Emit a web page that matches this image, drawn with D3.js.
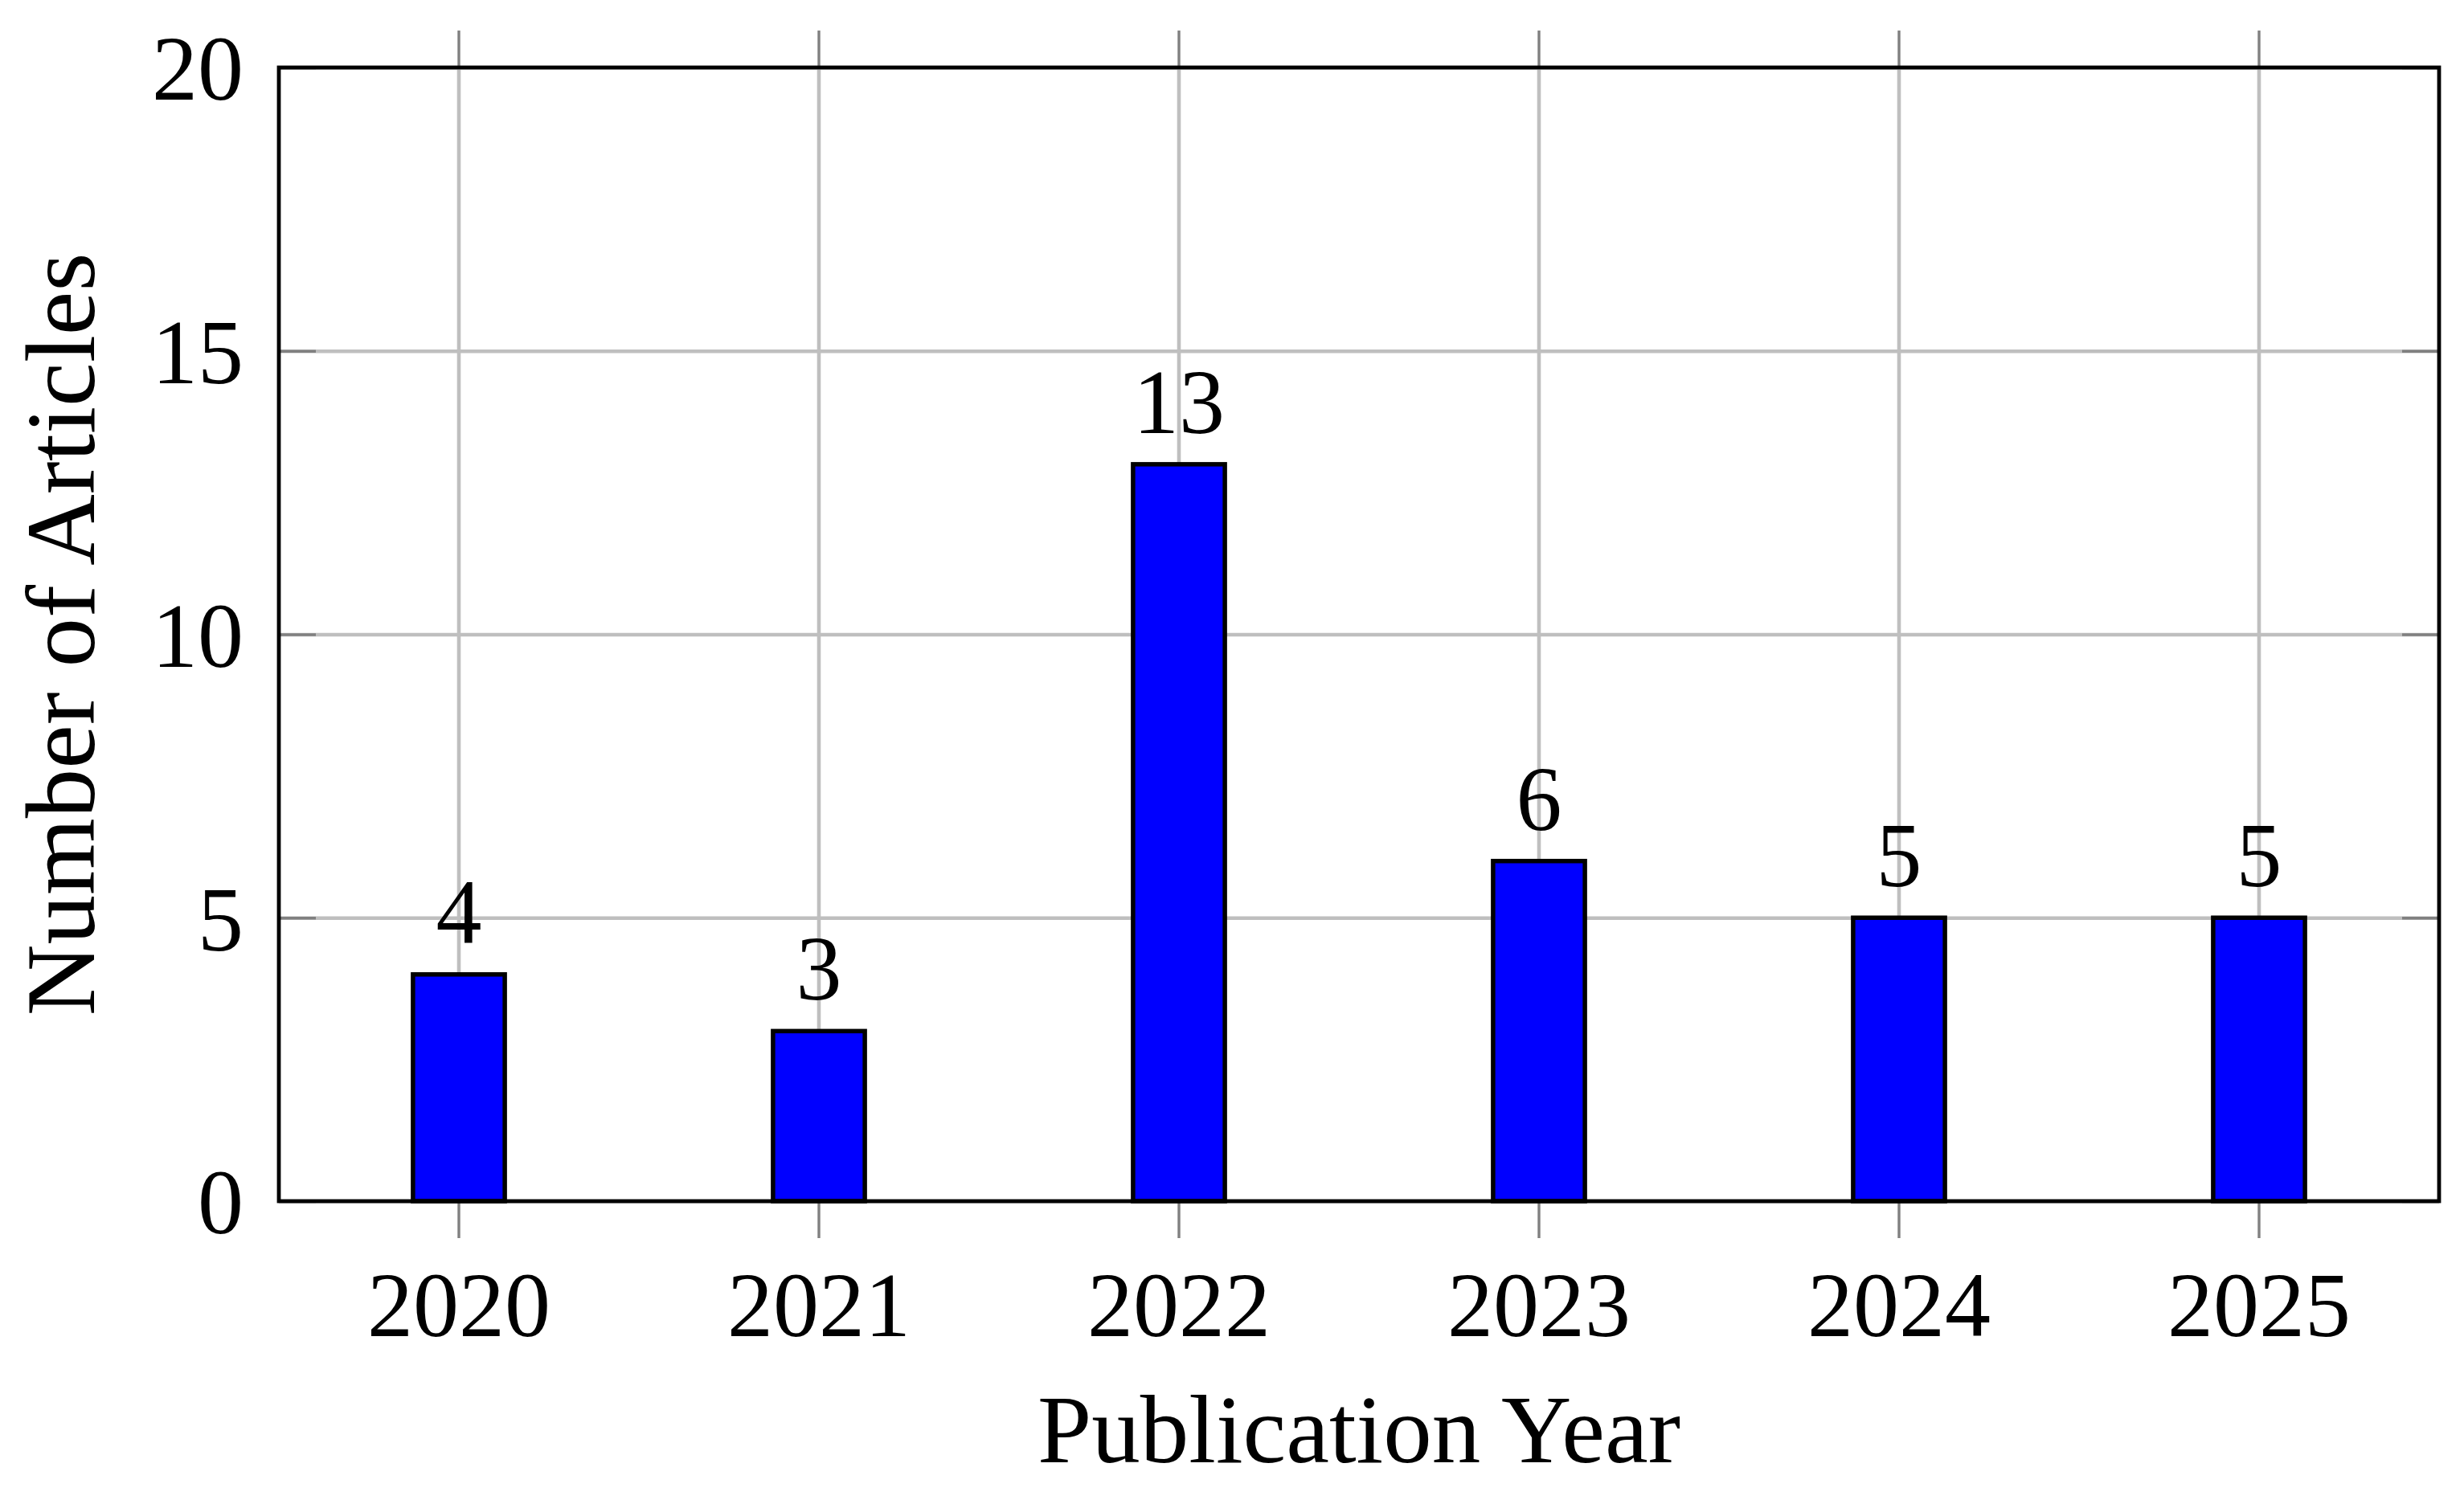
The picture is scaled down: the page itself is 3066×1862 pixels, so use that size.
<!DOCTYPE html>
<html>
<head>
<meta charset="utf-8">
<script src="https://cdn.jsdelivr.net/npm/d3@7"></script>
<style>
  body { margin: 0; background: #fff; }
  svg { display: block; }
  text { font-family: "Liberation Serif", "DejaVu Serif", serif; fill: #000; }
</style>
</head>
<body>
<div id="chart"></div>
<script>
const years = ["2020", "2021", "2022", "2023", "2024", "2025"]
const articles = [4, 3, 13, 6, 5, 5]
const yTicks = [0, 5, 10, 15, 20]

const width = 3066, height = 1862
const margin = { top: 84, right: 31, bottom: 367, left: 347 }
const innerW = width - margin.left - margin.right
const innerH = height - margin.top - margin.bottom

const svg = d3.select("#chart")
    .append("svg")
    .attr("width", width)
    .attr("height", height)

const g = svg.append("g")
    .attr("transform", `translate(${margin.left}, ${margin.top})`)

const x = d3.scaleBand()
    .domain(years)
    .range([0, innerW])
    .padding(0)

const y = d3.scaleLinear()
    .domain([0, 20])
    .range([innerH, 0])

const cx = d => x(d) + x.bandwidth() / 2
const barW = x.bandwidth() * 0.255

// grid
g.append("g")
    .attr("class", "grid")
    .call(d3.axisLeft(y).tickValues(yTicks).tickSize(-innerW).tickFormat(""))
g.append("g")
    .attr("class", "grid")
    .attr("transform", `translate(0, ${innerH})`)
    .call(d3.axisBottom(x).tickSize(innerH).tickSizeOuter(0).tickFormat(""))
    .call(a => a.selectAll("line").attr("y2", -innerH))
g.selectAll(".grid .domain").remove()
g.selectAll(".grid line")
    .attr("stroke", "#bfbfbf")
    .attr("stroke-width", 4.6)

// ticks: y inside on both sides, x outside top and bottom
const tickLen = 46
g.append("g")
    .attr("class", "yaxis")
    .call(d3.axisLeft(y).tickValues(yTicks).tickSize(-tickLen).tickPadding(44))
g.append("g")
    .attr("transform", `translate(${innerW}, 0)`)
    .call(d3.axisRight(y).tickValues(yTicks).tickSize(-tickLen).tickFormat(""))
g.append("g")
    .attr("class", "xaxis")
    .attr("transform", `translate(0, ${innerH})`)
    .call(d3.axisBottom(x).tickSize(tickLen).tickSizeOuter(0).tickPadding(0))
g.append("g")
    .call(d3.axisTop(x).tickSize(tickLen).tickSizeOuter(0).tickFormat(""))

g.selectAll(".domain").remove()
g.selectAll(".tick line")
    .filter(function () { return !this.closest(".grid") })
    .attr("stroke", "#808080")
    .attr("stroke-width", 3.4)

g.selectAll(".yaxis text")
    .attr("font-size", 114)
    .attr("font-family", null)
    .attr("dy", "0.35em")
g.selectAll(".xaxis text")
    .attr("font-size", 114)
    .attr("font-family", null)
    .attr("y", 168)
    .attr("dy", null)

// bars
g.selectAll("rect.bar")
    .data(articles)
    .join("rect")
    .attr("class", "bar")
    .attr("x", (d, i) => cx(years[i]) - barW / 2)
    .attr("y", d => y(d))
    .attr("width", barW)
    .attr("height", d => y(0) - y(d))
    .attr("fill", "#0000ff")
    .attr("stroke", "#000")
    .attr("stroke-width", 5.5)

// value labels
g.selectAll("text.val")
    .data(articles)
    .join("text")
    .attr("class", "val")
    .attr("x", (d, i) => cx(years[i]))
    .attr("y", d => y(d) - 39)
    .attr("text-anchor", "middle")
    .attr("font-size", 114)
    .text(d => d)

// frame
g.append("rect")
    .attr("width", innerW)
    .attr("height", innerH)
    .attr("fill", "none")
    .attr("stroke", "#000")
    .attr("stroke-width", 4.8)

// axis titles
svg.append("text")
    .attr("x", margin.left + innerW / 2)
    .attr("y", 1820)
    .attr("text-anchor", "middle")
    .attr("font-size", 121)
    .text("Publication Year")

svg.append("text")
    .attr("transform", `translate(117, ${margin.top + innerH / 2}) rotate(-90)`)
    .attr("text-anchor", "middle")
    .attr("font-size", 123)
    .text("Number of Articles")
</script>
</body>
</html>
